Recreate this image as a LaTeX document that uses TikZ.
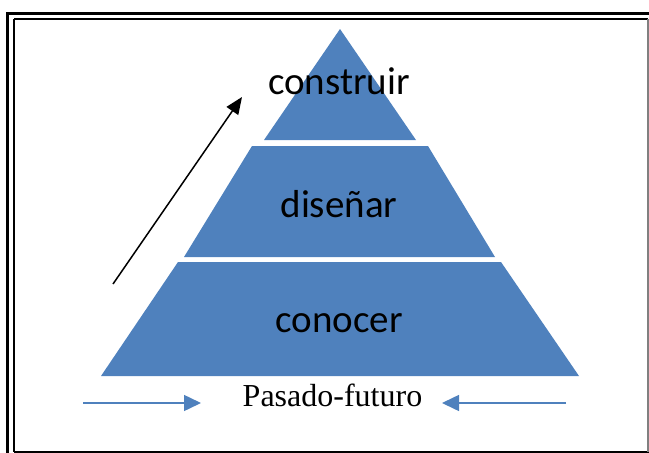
\documentclass[tikz,border=0pt]{standalone}
\usepackage{fontspec}
\setmainfont{Liberation Serif}
\newfontfamily\calib{Carlito}
\usetikzlibrary{arrows.meta}
\definecolor{pyrblue}{HTML}{4F81BD}
\tikzset{
  level/.style={fill=pyrblue, draw=none},
  leveltext/.style={font=\calib\fontsize{39}{42}\selectfont, text=black, inner sep=0pt, anchor=base},
  bluearrow/.style={draw=pyrblue, line width=1.5pt, -{Triangle[length=17pt,width=16pt]}},
  blackarrow/.style={draw=black, line width=1.5pt, -{Triangle[length=17pt,width=14pt]}},
}
\begin{document}
\begin{tikzpicture}[x=1pt,y=-1pt]
\useasboundingbox (0,0) rectangle (649,453);
\clip (0,0) rectangle (649,453);
% frame
\draw[line width=3pt] (7.5,13.5) rectangle (680,480);
\draw[line width=2pt] (14,18.5) -- (648,18.5);
\draw[line width=2pt] (14,18.5) -- (14,452);
\draw[line width=2pt] (14,452) -- (649,452);
\draw[line width=1.5pt, draw=gray] (648,18.5) -- (648,452);
% pyramid
\fill[level] (340,29) -- (416,140) -- (264,140) -- cycle;
\fill[level] (252,146) -- (428,146) -- (495,257) -- (184,257) -- cycle;
\fill[level] (178,262) -- (501,262) -- (579,376) -- (101,376) -- cycle;
% texts
\node[leveltext] (construir) at (339,94) {construir};
\node[leveltext] (disenar) at (339,217) {diseñar};
\node[leveltext] (conocer) at (339,332) {conocer};
\node[font=\fontsize{32}{35}\selectfont, inner sep=0pt, anchor=base] (pf) at (332.5,406) {Pasado-futuro};
% arrows
\coordinate (upstart) at (113,284);
\coordinate (upend) at (242,97);
\draw[blackarrow] (upstart) -- (upend);
\coordinate (lstart) at (83,403);
\coordinate (lend) at (201,403);
\draw[bluearrow] (lstart) -- (lend);
\coordinate (rstart) at (566,403);
\coordinate (rend) at (442,403);
\draw[bluearrow] (rstart) -- (rend);
\end{tikzpicture}
\end{document}
